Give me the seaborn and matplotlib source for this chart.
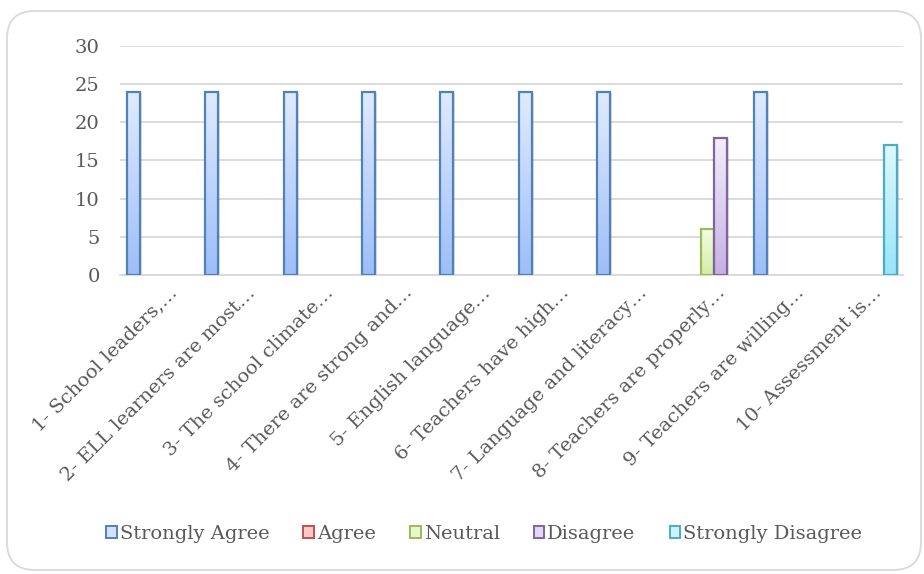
import numpy as np
import pandas as pd
import matplotlib
matplotlib.use("Agg")
import matplotlib.pyplot as plt
import matplotlib.transforms as mtransforms
from matplotlib.patches import Patch, FancyBboxPatch, Rectangle
from matplotlib.colors import to_rgb
import seaborn as sns

# ---- data -------------------------------------------------------------
items = [
    "1- School leaders,\u2026",
    "2- ELL learners are most\u2026",
    "3- The school climate\u2026",
    "4- There are strong and\u2026",
    "5- English language\u2026",
    "6- Teachers have high\u2026",
    "7- Language and literacy\u2026",
    "8- Teachers are properly\u2026",
    "9- Teachers are willing\u2026",
    "10- Assessment is\u2026",
]
responses = ["Strongly Agree", "Agree", "Neutral", "Disagree", "Strongly Disagree"]

strongly_agree = [24, 24, 24, 24, 24, 24, 24, 0, 24, 0]
agree = [0, 0, 0, 0, 0, 0, 0, 0, 0, 0]
neutral = [0, 0, 0, 0, 0, 0, 0, 6, 0, 0]
disagree = [0, 0, 0, 0, 0, 0, 0, 18, 0, 0]
strongly_disagree = [0, 0, 0, 0, 0, 0, 0, 0, 0, 17]

y_ticks = [0, 5, 10, 15, 20, 25, 30]

# ---- styling ----------------------------------------------------------
edge_colors = ["#4F81BD", "#C0504D", "#9BBB59", "#8064A2", "#4BACC6"]
top_colors = ["#E1EBFF", "#FFE0E0", "#F4FCE2", "#F3EEFA", "#E0F8FE"]
bottom_colors = ["#9DBEF8", "#F7A3A1", "#D2EEA6", "#C6B1E4", "#98E5F8"]
legend_fill = ["#D3E1FB", "#FBC9C8", "#E9F7CC", "#E2D8F1", "#CDF2FB"]
text_color = "#595959"
grid_color = "#D9D9D9"

values = [strongly_agree, agree, neutral, disagree, strongly_disagree]
df = pd.DataFrame(
    [(it, r, v[i]) for r, v in zip(responses, values) for i, it in enumerate(items)],
    columns=["item", "response", "count"],
)

sns.set_theme(style="white")
plt.rcParams["font.family"] = ["DejaVu Serif"]

fig = plt.figure(figsize=(9.24, 5.74), dpi=100)
ax = fig.add_axes([0.1304, 0.5209, 0.8474, 0.3990])

sns.barplot(
    data=df, x="item", y="count", hue="response", hue_order=responses,
    order=items, palette=legend_fill, width=0.83, gap=0,
    legend=False, errorbar=None, ax=ax, zorder=3,
)

# gradient fills, edges and soft shadows on every bar
shadow_off = mtransforms.ScaledTranslation(0.02, -0.01, fig.dpi_scale_trans)
for k, container in enumerate(ax.containers):
    top = np.array(to_rgb(top_colors[k]))
    bot = np.array(to_rgb(bottom_colors[k]))
    grad = np.linspace(0, 1, 256)[:, None, None]
    img = (top * (1 - grad) + bot * grad)
    for bar in container:
        h = bar.get_height()
        if h <= 0:
            bar.set_visible(False)
            continue
        x0, w = bar.get_x(), bar.get_width()
        shadow = Rectangle((x0, 0), w, h, facecolor="#000000", alpha=0.12,
                           edgecolor="none", zorder=2.5,
                           transform=ax.transData + shadow_off)
        ax.add_patch(shadow)
        ax.imshow(img, extent=[x0, x0 + w, 0, h], origin="upper",
                  aspect="auto", zorder=3.1, interpolation="bicubic")
        bar.set_facecolor("none")
        bar.set_edgecolor(edge_colors[k])
        bar.set_linewidth(1.6)
        bar.set_zorder(3.2)

ax.set_xlim(-0.5, len(items) - 0.5)
ax.set_ylim(0, 30)
ax.set_yticks(y_ticks)
ax.set_xlabel("")
ax.set_ylabel("")

ax.yaxis.grid(True, color=grid_color, linewidth=1.3, zorder=0)
ax.set_axisbelow(True)
for side in ["top", "right", "left"]:
    ax.spines[side].set_visible(False)
ax.spines["bottom"].set_color(grid_color)
ax.spines["bottom"].set_linewidth(1.3)

ax.tick_params(axis="y", length=0, pad=15, labelsize=14, labelcolor=text_color)
ax.tick_params(axis="x", length=0, pad=0, labelsize=14, labelcolor=text_color)

ax.set_xticks(range(len(items)))
ax.set_xticklabels(items)
label_off = mtransforms.ScaledTranslation(0.15, -0.15, fig.dpi_scale_trans)
for lab in ax.get_xticklabels():
    lab.set_rotation(45)
    lab.set_rotation_mode("anchor")
    lab.set_ha("right")
    lab.set_va("center")
    lab.set_transform(lab.get_transform() + label_off)

# legend along the bottom
handles = [Patch(facecolor=f, edgecolor=e, linewidth=1.4)
           for f, e in zip(legend_fill, edge_colors)]
fig.legend(handles, responses, loc="center", bbox_to_anchor=(0.524, 0.0697),
           ncol=5, frameon=False, fontsize=14, labelcolor=text_color,
           handlelength=0.55, handleheight=0.55, handletextpad=0.15,
           columnspacing=1.75, borderaxespad=0)

# rounded chart-area border
border = FancyBboxPatch((7 / 924, 4 / 574), 914 / 924, 559 / 574,
                        boxstyle="round,pad=0,rounding_size=0.03",
                        transform=fig.transFigure, facecolor="none",
                        edgecolor="#D9D9D9", linewidth=1.3,
                        mutation_aspect=924 / 574)
fig.patches.append(border)

fig.savefig("out.png", dpi=100)
